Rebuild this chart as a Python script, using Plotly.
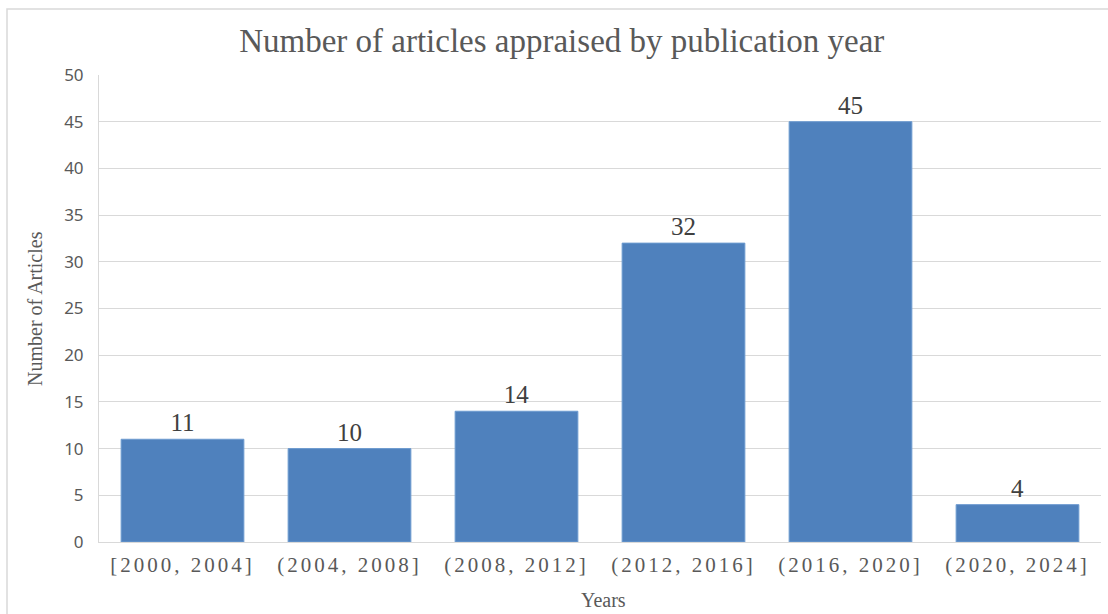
import plotly.graph_objects as go

categories = ["[2000, 2004]", "(2004, 2008]", "(2008, 2012]", "(2012, 2016]", "(2016, 2020]", "(2020, 2024]"]
counts = [11, 10, 14, 32, 45, 4]
y_ticks = [0, 5, 10, 15, 20, 25, 30, 35, 40, 45, 50]

TITLE = "Number of articles appraised by publication year"
X_TITLE = "Years"
Y_TITLE = "Number of Articles"

serif = "Liberation Serif, Times New Roman, serif"
sans = "Noto Sans, Liberation Sans, sans-serif"

fig = go.Figure(go.Bar(
    x=categories, y=counts,
    marker=dict(color="#4f81bd", line=dict(color="#6d9bd0", width=1)),
    text=[str(v) for v in counts], textposition="outside",
    textfont=dict(family=serif, size=25, color="#404040"),
    cliponaxis=False,
))

L, R, T, B = 99, 7, 75, 72
W = 1108 - L - R
H = 614 - T - B
fig.update_layout(
    width=1108, height=614,
    margin=dict(l=L, r=R, t=T, b=B),
    paper_bgcolor="white", plot_bgcolor="white",
    bargap=0.265,
    showlegend=False,
    title=dict(text=TITLE, x=0.507, xanchor="center", y=1 - 40 / 614, yanchor="middle",
               font=dict(family=serif, size=33, color="#595959")),
    xaxis=dict(
        tickfont=dict(family=serif, size=21, color="#595959"),
        showgrid=False, showline=True, linecolor="#d9d9d9", linewidth=1,
        ticks="", ticklabelstandoff=4,
    ),
    yaxis=dict(
        range=[0, 50], tickvals=y_ticks,
        tickfont=dict(family=sans, size=17, color="#595959"),
        showgrid=True, gridcolor="#d9d9d9", gridwidth=1,
        showline=True, linecolor="#d9d9d9", linewidth=1,
        zeroline=False, ticks="", ticklabelstandoff=11,
    ),
    annotations=[
        dict(text=Y_TITLE, xref="paper", yref="paper", x=(35 - L) / W, y=0.499,
             xanchor="center", yanchor="middle", textangle=-90, showarrow=False,
             font=dict(family=serif, size=20, color="#595959")),
        dict(text=X_TITLE, xref="paper", yref="paper", x=(603 - L) / W, y=-(600 - 542) / H,
             xanchor="center", yanchor="middle", showarrow=False,
             font=dict(family=serif, size=20, color="#595959")),
    ],
    shapes=[
        dict(type="rect", xref="paper", yref="paper",
             x0=(7 - L) / W, x1=(1130 - L) / W,
             y0=-(640 - 542) / H, y1=1 + (T - 9) / H,
             line=dict(color="#d9d9d9", width=1.5), fillcolor="rgba(0,0,0,0)", layer="below"),
    ],
)

fig.write_html("out.html", post_script="document.querySelectorAll('.xtick text').forEach(function(t){t.style.letterSpacing='3px';});")
